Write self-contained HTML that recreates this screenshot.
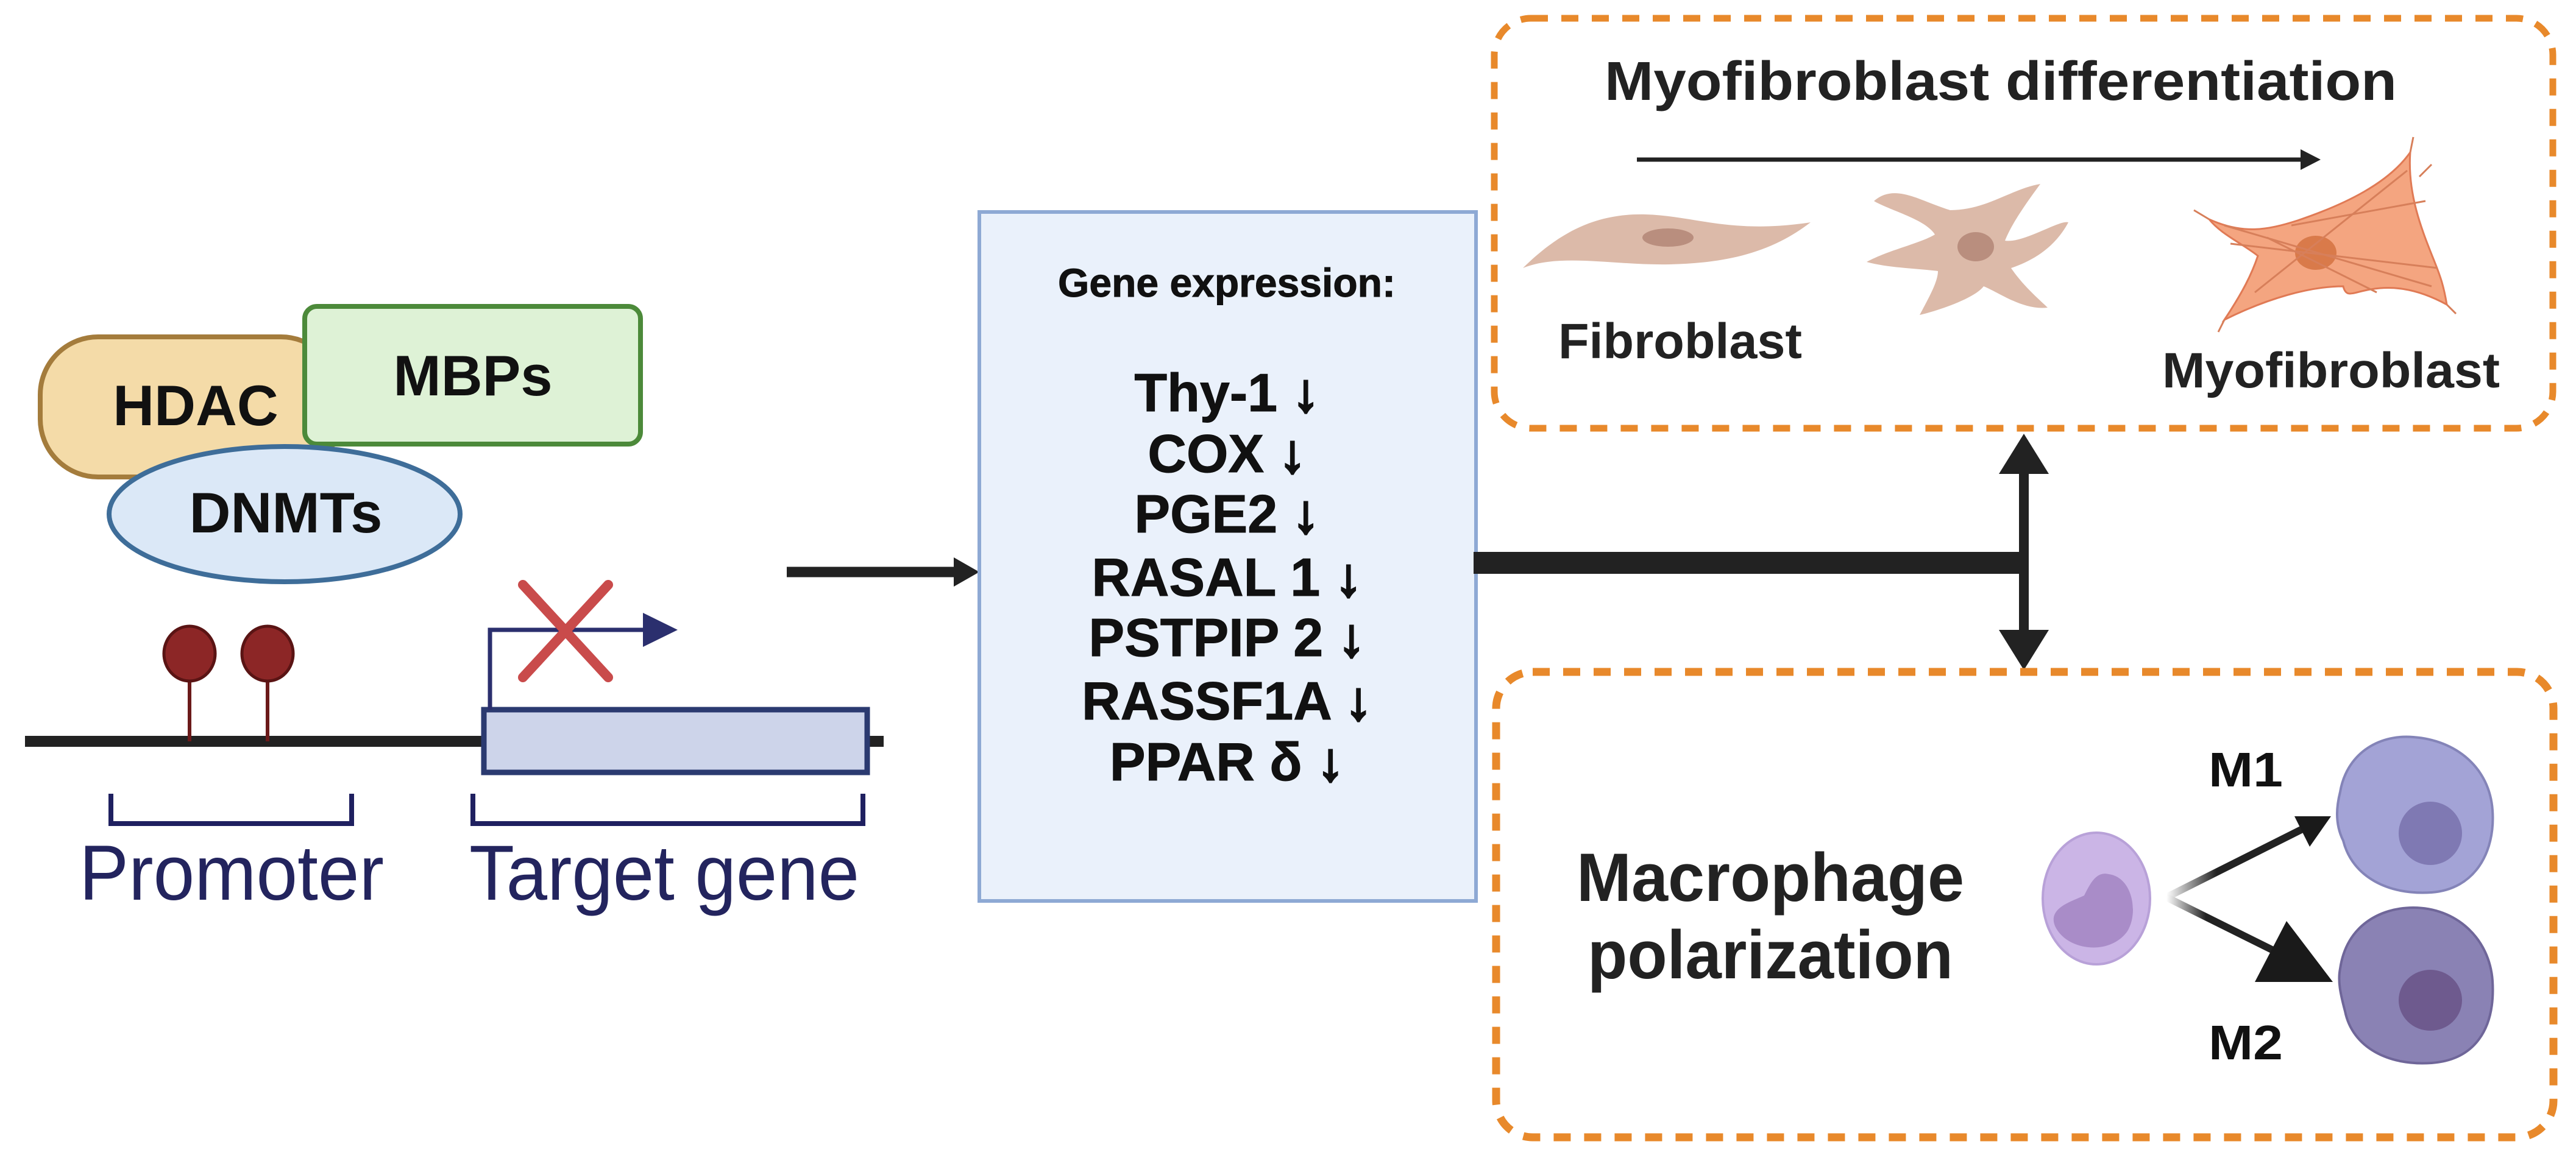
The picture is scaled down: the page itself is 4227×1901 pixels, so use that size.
<!DOCTYPE html>
<html><head><meta charset="utf-8"><style>html,body{margin:0;padding:0;background:#fff}svg{display:block}</style></head>
<body>
<svg width="4227" height="1901" viewBox="0 0 4227 1901" xmlns="http://www.w3.org/2000/svg" font-family="'Liberation Sans', sans-serif">
<defs>
<linearGradient id="g1" x1="0" y1="0" x2="1" y2="0"><stop offset="0" stop-color="#fff"/><stop offset="0.35" stop-color="#222"/></linearGradient>
</defs>
<rect width="4227" height="1901" fill="#fff"/>

<!-- Left: proteins -->
<rect x="66" y="553" width="490" height="230" rx="95" fill="#f4dba8" stroke="#a47c3c" stroke-width="8"/>
<text x="321" y="698" font-size="94" font-weight="bold" text-anchor="middle" fill="#111">HDAC</text>
<rect x="500" y="503" width="551" height="226" rx="20" fill="#def2d6" stroke="#4c8a3a" stroke-width="8"/>
<text x="776" y="649" font-size="94" font-weight="bold" text-anchor="middle" fill="#111">MBPs</text>
<ellipse cx="467" cy="844" rx="288" ry="111" fill="#dbe8f7" stroke="#3e6d99" stroke-width="8"/>
<text x="469" y="874" font-size="94" font-weight="bold" text-anchor="middle" fill="#111">DNMTs</text>

<!-- DNA -->
<line x1="41" y1="1217" x2="1450" y2="1217" stroke="#222" stroke-width="18"/>
<line x1="311" y1="1080" x2="311" y2="1217" stroke="#6b1a1a" stroke-width="6"/>
<line x1="439" y1="1080" x2="439" y2="1217" stroke="#6b1a1a" stroke-width="6"/>
<ellipse cx="311" cy="1073" rx="42" ry="45" fill="#8c2626" stroke="#5a1414" stroke-width="5"/>
<ellipse cx="439" cy="1073" rx="42" ry="45" fill="#8c2626" stroke="#5a1414" stroke-width="5"/>
<rect x="794" y="1165" width="629" height="103" fill="#cdd4ea" stroke="#2b3a70" stroke-width="9"/>
<polyline points="804,1165 804,1034 1060,1034" fill="none" stroke="#2b2f6e" stroke-width="7"/>
<polygon points="1055,1006 1112,1034 1055,1062" fill="#2b2f6e"/>
<line x1="858" y1="960" x2="998" y2="1112" stroke="#c94b4b" stroke-width="16" stroke-linecap="round"/>
<line x1="998" y1="960" x2="858" y2="1112" stroke="#c94b4b" stroke-width="16" stroke-linecap="round"/>
<polyline points="182,1303 182,1352 577,1352 577,1303" fill="none" stroke="#1f2060" stroke-width="8"/>
<polyline points="776,1303 776,1352 1416,1352 1416,1303" fill="none" stroke="#1f2060" stroke-width="8"/>
<text x="380" y="1477" font-size="128" text-anchor="middle" fill="#23245e" textLength="500" lengthAdjust="spacingAndGlyphs">Promoter</text>
<text x="1090" y="1477" font-size="128" text-anchor="middle" fill="#23245e" textLength="640" lengthAdjust="spacingAndGlyphs">Target gene</text>

<!-- arrow to box -->
<line x1="1291" y1="939" x2="1570" y2="939" stroke="#222" stroke-width="17"/>
<polygon points="1565,915 1607,939 1565,963" fill="#222"/>

<!-- Middle box -->
<rect x="1607" y="348" width="815" height="1131" fill="#eaf1fb" stroke="#8ea9d4" stroke-width="6"/>
<g font-weight="bold" fill="#111" text-anchor="middle" stroke="#111" stroke-width="1">
<text x="2013" y="487" font-size="66">Gene expression:</text>
<text x="2013" y="675" font-size="88">Thy-1 <tspan stroke-width="4">↓</tspan></text>
<text x="2013" y="775" font-size="88">COX <tspan stroke-width="4">↓</tspan></text>
<text x="2013" y="874" font-size="88">PGE2 <tspan stroke-width="4">↓</tspan></text>
<text x="2013" y="978" font-size="88">RASAL 1 <tspan stroke-width="4">↓</tspan></text>
<text x="2013" y="1077" font-size="88">PSTPIP 2 <tspan stroke-width="4">↓</tspan></text>
<text x="2013" y="1181" font-size="88">RASSF1A <tspan stroke-width="4">↓</tspan></text>
<text x="2013" y="1281" font-size="88">PPAR δ <tspan stroke-width="4">↓</tspan></text>
</g>

<!-- T connector -->
<line x1="2418" y1="924" x2="3321" y2="924" stroke="#222" stroke-width="36"/>
<line x1="3321" y1="760" x2="3321" y2="1050" stroke="#222" stroke-width="16"/>
<polygon points="3321,712 3362,778 3280,778" fill="#222"/>
<polygon points="3321,1100 3362,1034 3280,1034" fill="#222"/>

<!-- Top dashed box -->
<rect x="2452" y="30" width="1737" height="673" rx="60" fill="none" stroke="#e8892b" stroke-width="11" stroke-dasharray="28 22"/>
<text x="3283" y="164" font-size="90" font-weight="bold" text-anchor="middle" fill="#222" textLength="1300" lengthAdjust="spacingAndGlyphs">Myofibroblast differentiation</text>
<line x1="2686" y1="262" x2="3780" y2="262" stroke="#222" stroke-width="7"/>
<polygon points="3775,245 3808,262 3775,279" fill="#222"/>
<!-- fibroblast -->
<path d="M2499,440 C2560,380 2620,350 2700,352 C2780,354 2840,385 2971,365 C2900,420 2820,432 2740,434 C2650,436 2560,415 2499,440 Z" fill="#dcbaa9"/>
<ellipse cx="2737" cy="390" rx="42" ry="15" fill="#b98e7e"/>
<!-- star cell -->
<path d="M3075,330 C3110,300 3150,330 3200,345 C3260,345 3300,310 3348,302 C3320,340 3300,370 3290,395 C3320,400 3380,360 3394,365 C3370,410 3330,430 3300,440 C3320,470 3350,495 3360,505 C3320,510 3280,480 3255,470 C3240,490 3180,510 3150,517 C3170,480 3180,460 3180,445 C3140,440 3100,440 3063,430 C3100,410 3150,400 3175,385 C3160,360 3100,345 3075,330 Z" fill="#dcbaa9"/>
<ellipse cx="3242" cy="405" rx="30" ry="24" fill="#b98e7e"/>
<!-- myofibroblast -->
<path d="M3625,360 C3680,385 3720,378 3770,362 C3850,335 3920,300 3955,250 C3950,320 3975,380 3995,430 C4005,455 4010,470 4015,500 C3960,470 3920,470 3890,475 C3860,480 3850,490 3845,470 C3790,470 3720,490 3650,525 C3680,480 3695,450 3705,420 C3680,400 3645,385 3625,360 Z" fill="#f4a580" stroke="#e07a55" stroke-width="3"/>
<ellipse cx="3800" cy="415" rx="34" ry="28" fill="#d97a4a"/>
<path d="M3650,370 L3990,470 M3700,480 L3950,280 M3660,400 L4000,440 M3720,390 L3900,480 M3760,370 L3980,330" stroke="#d77f5a" stroke-width="3" fill="none"/>
<path d="M3955,250 L3960,225 M3970,290 L3990,270 M3625,360 L3600,345 M3650,525 L3640,545 M4015,500 L4030,515" stroke="#d77f5a" stroke-width="3"/>
<text x="2557" y="588" font-size="82" font-weight="bold" fill="#222" textLength="400" lengthAdjust="spacingAndGlyphs">Fibroblast</text>
<text x="3548" y="636" font-size="82" font-weight="bold" fill="#222" textLength="554" lengthAdjust="spacingAndGlyphs">Myofibroblast</text>

<!-- Bottom dashed box -->
<rect x="2455" y="1103" width="1735" height="764" rx="60" fill="none" stroke="#e8892b" stroke-width="13" stroke-dasharray="28 22"/>
<text x="2905" y="1479" font-size="112" font-weight="bold" text-anchor="middle" fill="#222" textLength="636" lengthAdjust="spacingAndGlyphs">Macrophage</text>
<text x="2905" y="1606" font-size="112" font-weight="bold" text-anchor="middle" fill="#222" textLength="600" lengthAdjust="spacingAndGlyphs">polarization</text>
<text x="3624" y="1291" font-size="80" font-weight="bold" fill="#111" textLength="122" lengthAdjust="spacingAndGlyphs">M1</text>
<text x="3624" y="1739" font-size="80" font-weight="bold" fill="#111" textLength="122" lengthAdjust="spacingAndGlyphs">M2</text>
<!-- monocyte -->
<ellipse cx="3440" cy="1475" rx="88" ry="108" fill="#cbb5e6" stroke="#b8a1d8" stroke-width="4"/>
<path d="M3460,1435 C3500,1440 3510,1500 3490,1530 C3460,1570 3390,1560 3372,1520 C3360,1490 3400,1480 3420,1470 C3430,1450 3440,1430 3460,1435 Z" fill="#a98cc8"/>
<!-- arrows -->
<path d="M3555,1473 L3790,1355" stroke="url(#g1)" stroke-width="12" fill="none"/>
<polygon points="3825,1340 3765,1340 3790,1390" fill="#1a1a1a"/>
<path d="M3555,1473 L3740,1565" stroke="url(#g1)" stroke-width="12" fill="none"/>
<polygon points="3828,1612 3700,1612 3752,1512" fill="#1a1a1a"/>
<!-- M1 -->
<path d="M3840,1300 C3850,1240 3900,1205 3960,1210 C4030,1215 4085,1260 4090,1330 C4095,1400 4060,1460 3990,1465 C3920,1470 3860,1440 3845,1380 C3830,1350 3835,1320 3840,1300 Z" fill="#a3a3d6" stroke="#8484b8" stroke-width="4"/>
<ellipse cx="3988" cy="1368" rx="52" ry="52" fill="#7f79b3"/>
<!-- M2 -->
<path d="M3840,1590 C3850,1520 3905,1490 3960,1490 C4030,1490 4085,1540 4090,1610 C4095,1690 4060,1740 3990,1745 C3920,1750 3860,1720 3848,1660 C3840,1630 3836,1610 3840,1590 Z" fill="#8a82b4" stroke="#6f6699" stroke-width="4"/>
<ellipse cx="3988" cy="1642" rx="52" ry="50" fill="#6e5a8e"/>
</svg>
</body></html>
